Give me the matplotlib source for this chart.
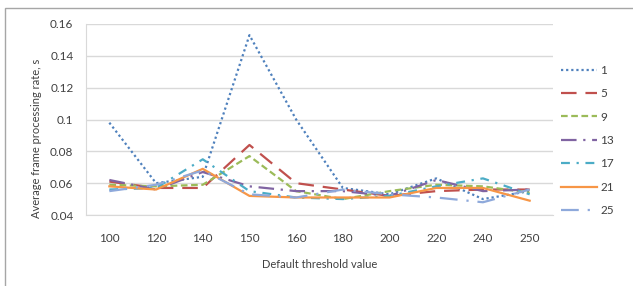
import matplotlib
matplotlib.use("Agg")
import matplotlib.pyplot as plt
from matplotlib.patches import Rectangle

categories = ["100", "120", "140", "150", "160", "180", "200", "220", "240", "250"]
series_labels = ["1", "5", "9", "13", "17", "21", "25"]
s1 = [0.098, 0.060, 0.064, 0.153, 0.100, 0.057, 0.053, 0.063, 0.050, 0.055]
s5 = [0.061, 0.057, 0.057, 0.084, 0.060, 0.056, 0.052, 0.055, 0.056, 0.056]
s9 = [0.059, 0.058, 0.059, 0.077, 0.055, 0.050, 0.055, 0.059, 0.058, 0.054]
s13 = [0.062, 0.056, 0.067, 0.058, 0.055, 0.055, 0.052, 0.062, 0.055, 0.056]
s17 = [0.056, 0.057, 0.075, 0.055, 0.051, 0.050, 0.052, 0.058, 0.063, 0.053]
s21 = [0.058, 0.056, 0.069, 0.052, 0.051, 0.051, 0.051, 0.057, 0.057, 0.049]
s25 = [0.055, 0.059, 0.068, 0.053, 0.051, 0.056, 0.053, 0.051, 0.048, 0.056]
yticks = [0.04, 0.06, 0.08, 0.1, 0.12, 0.14, 0.16]
ytick_labels = ["0.04", "0.06", "0.08", "0.1", "0.12", "0.14", "0.16"]

series = [s1, s5, s9, s13, s17, s21, s25]
colors = ["#4F81BD", "#C0504D", "#9BBB59", "#8064A2", "#4BACC6", "#F79646", "#8EA9DB"]
styles = [(0, (1, 1.3)), (0, (7, 4)), (0, (3, 1.6)), (0, (7, 3, 1, 3)),
          (0, (4, 3, 1, 3)), "-", (0, (8, 4, 1, 4))]

plt.rcParams['font.family'] = ['Lato', 'DejaVu Sans']

fig = plt.figure(figsize=(6.33, 2.86), dpi=100)
fig.patches.append(Rectangle((5/633, -0.1), 1.2, 1 - 8/286 + 0.1, transform=fig.transFigure,
                             fill=False, edgecolor="#A6A6A6", linewidth=1.0))
ax = fig.add_axes([86/633, 1 - 215/286, (553 - 86)/633, (215 - 24)/286])

x = list(range(len(categories)))
for vals, lab, c, ls in zip(series, series_labels, colors, styles):
    ax.plot(x, vals, color=c, linestyle=ls, linewidth=1.6, label=lab)

ax.set_xlim(-0.5, len(categories) - 0.5)
ax.set_ylim(0.04, 0.16)
ax.set_yticks(yticks)
ax.set_yticklabels(ytick_labels)
ax.set_xticks(x)
ax.set_xticklabels(categories)
ax.yaxis.grid(True, color="#D9D9D9", linewidth=1.0)
ax.set_axisbelow(True)
for sp in ["top", "right"]:
    ax.spines[sp].set_visible(False)
ax.spines["left"].set_color("#D9D9D9")
ax.spines["bottom"].set_color("#D9D9D9")
ax.tick_params(axis="y", length=0, labelsize=8.5, colors="#404040", pad=9)
ax.tick_params(axis="x", length=0, labelsize=8.5, colors="#404040", pad=13)
ax.set_xlabel("Default threshold value", fontsize=8, color="#404040", labelpad=11)
ax.set_ylabel("Average frame processing rate, s", fontsize=8, color="#404040")
ax.yaxis.set_label_coords(-0.095, 0.40)

leg = ax.legend(loc="upper left", bbox_to_anchor=(1.0, 0.83), frameon=False,
                fontsize=8.5, handlelength=3.0, labelspacing=1.05, handletextpad=0.3,
                borderaxespad=0.3)
for t in leg.get_texts():
    t.set_color("#404040")

fig.savefig("out.png", dpi=100)
